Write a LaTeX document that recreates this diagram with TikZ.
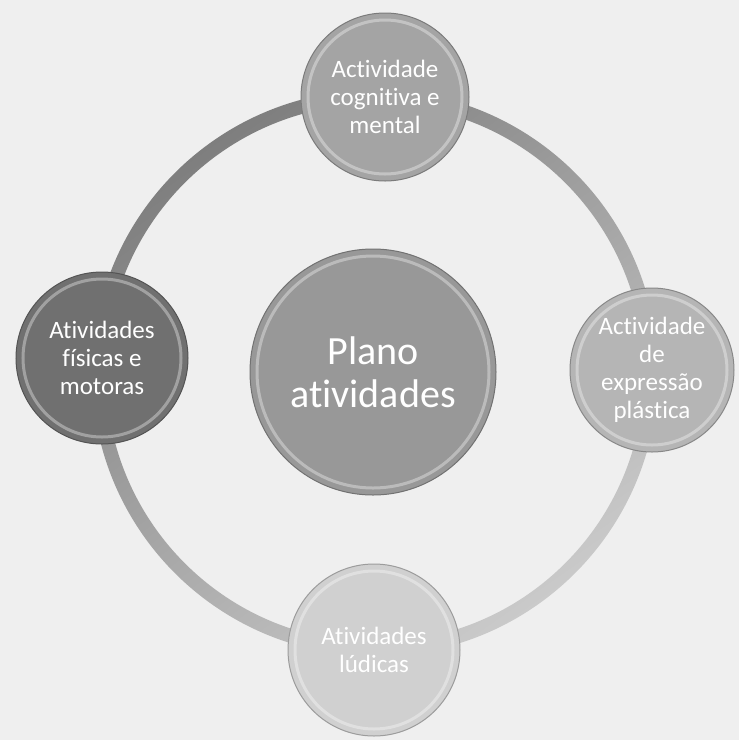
\documentclass[tikz,border=0pt]{standalone}
\usepackage{fontspec}
\setmainfont{Carlito}[Ligatures=NoCommon]
\usetikzlibrary{shadings}
\definecolor{bgc}{HTML}{EFEFEF}
\definecolor{ringdark}{HTML}{7E7E7E}
\definecolor{ringmid}{HTML}{A6A6A6}
\definecolor{ringlight}{HTML}{CACACA}
\definecolor{ctop}{HTML}{A4A4A4}
\definecolor{cleft}{HTML}{707070}
\definecolor{cright}{HTML}{B5B5B5}
\definecolor{cbot}{HTML}{D0D0D0}
\definecolor{ccen}{HTML}{989898}
\tikzset{
  bubble/.style={circle, draw=#1!75!black, line width=1pt, fill=#1,
    text=white, align=center, inner sep=0pt, font=\fontsize{25}{28}\selectfont},
  rim/.style={draw=white, draw opacity=0.35, line width=3pt},
}
\begin{document}
\begin{tikzpicture}[x=1pt,y=-1pt]
\useasboundingbox (0,0) rectangle (739,740);
\fill[bgc] (0,0) rectangle (739,740);
% ring
\coordinate (rc) at (375,373);
\path[top color=ringdark, middle color=ringmid, bottom color=ringlight, shading angle=35, even odd rule]
  (rc) circle [radius=283] (rc) circle [radius=269];
% nodes
\node[bubble=ccen, minimum size=246pt, font=\fontsize{40}{43}\selectfont] (cen) at (373,372) {Plano\\atividades};
\node[bubble=ctop, minimum size=168pt] (top) at (385,97) {Actividade\\cognitiva e\\mental};
\node[bubble=cleft, minimum size=172pt] (left) at (102,358) {Atividades\\físicas e\\motoras};
\node[bubble=cright, minimum size=164pt] (right) at (652,370) {Actividade\\de\\expressão\\plástica};
\node[bubble=cbot, minimum size=172pt] (bot) at (374,650) {Atividades\\lúdicas};
% rims
\foreach \n/\r in {cen/116, top/77, left/79, right/75, bot/79}{
  \draw[rim] (\n.center) circle [radius=\r];
}
\end{tikzpicture}
\end{document}
